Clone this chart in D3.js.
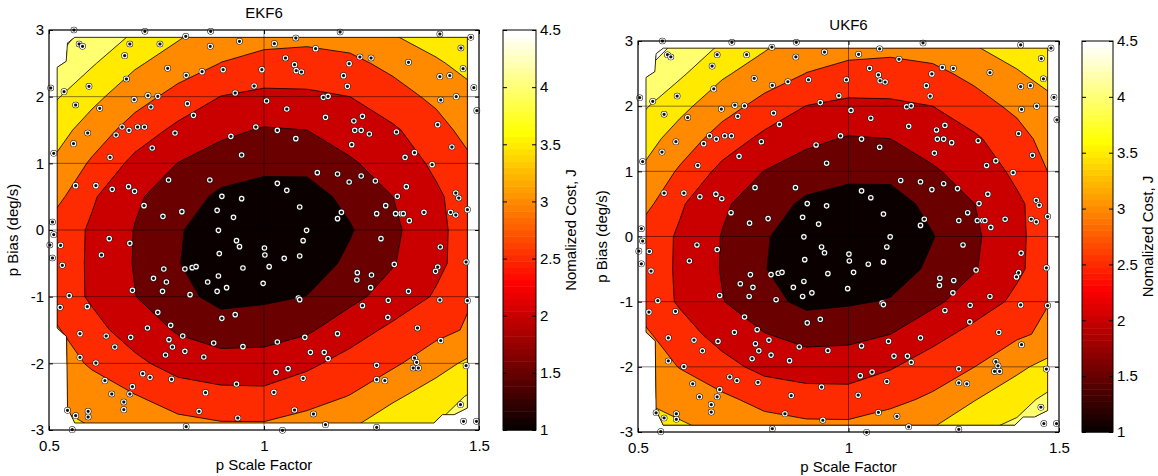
<!DOCTYPE html>
<meta charset="utf-8">
<title>EKF6 / UKF6</title>
<style>
	body { margin: 0; background: #fff; }
	svg text { font-family: "Liberation Sans", Arial, sans-serif; fill: #000; }
</style>
<svg id="chart" width="1158" height="476"></svg>
<script src="https://cdn.jsdelivr.net/npm/d3@7/dist/d3.min.js"></script>
<script>
// grid of the interpolated cost, rows go from the top (bias 3) to the bottom (bias -3)
var scaleFactor = [0.5, 0.6, 0.7, 0.8, 0.9, 1.0, 1.1, 1.2, 1.3, 1.4, 1.5];
var biasRows = [3, 2.5, 2, 1.5, 1, 0.5, 0, -0.5, -1, -1.5, -2, -2.5, -3];

var ekfCost = [
	[4.80, 4.37, 4.00, 3.62, 3.30, 3.26, 3.19, 3.27, 3.55, 3.80, 3.90],
	[4.55, 4.05, 3.57, 3.26, 2.99, 2.82, 2.81, 2.88, 3.13, 3.43, 3.74],
	[4.13, 3.63, 3.20, 2.83, 2.49, 2.39, 2.41, 2.50, 2.80, 3.11, 3.42],
	[3.77, 3.28, 2.78, 2.38, 2.11, 1.96, 2.00, 2.22, 2.43, 2.81, 3.28],
	[3.50, 2.93, 2.36, 1.99, 1.77, 1.63, 1.63, 1.94, 2.22, 2.59, 3.02],
	[3.26, 2.56, 2.07, 1.75, 1.40, 1.30, 1.31, 1.63, 2.00, 2.42, 2.84],
	[2.87, 2.43, 1.98, 1.56, 1.15, 1.05, 1.10, 1.46, 1.90, 2.37, 2.83],
	[2.87, 2.42, 1.97, 1.52, 1.20, 1.10, 1.25, 1.60, 1.97, 2.39, 2.81],
	[2.85, 2.43, 2.01, 1.65, 1.35, 1.41, 1.51, 1.87, 2.20, 2.55, 3.05],
	[3.13, 2.66, 2.27, 1.95, 1.75, 1.79, 1.93, 2.28, 2.61, 2.86, 3.11],
	[3.27, 2.94, 2.61, 2.30, 2.20, 2.20, 2.40, 2.68, 2.92, 3.29, 3.70],
	[3.45, 3.24, 3.03, 2.78, 2.66, 2.64, 2.82, 3.02, 3.41, 3.77, 4.12],
	[3.75, 3.52, 3.35, 3.20, 3.12, 3.12, 3.25, 3.50, 3.90, 4.05, 4.40]
];

var ukfCost = [
	[5.20, 4.40, 4.00, 3.62, 3.30, 3.26, 3.19, 3.27, 3.55, 3.80, 3.90],
	[4.55, 4.08, 3.57, 3.26, 2.99, 2.82, 2.81, 2.88, 3.13, 3.45, 3.78],
	[4.13, 3.63, 3.20, 2.83, 2.49, 2.39, 2.41, 2.50, 2.80, 3.11, 3.42],
	[3.77, 3.28, 2.78, 2.38, 2.11, 1.96, 2.00, 2.22, 2.43, 2.81, 3.30],
	[3.50, 2.93, 2.36, 1.99, 1.77, 1.63, 1.63, 1.94, 2.22, 2.60, 3.15],
	[3.26, 2.56, 2.07, 1.75, 1.40, 1.30, 1.31, 1.63, 2.00, 2.42, 2.84],
	[2.87, 2.43, 1.98, 1.56, 1.15, 1.05, 1.10, 1.48, 1.92, 2.40, 2.85],
	[2.87, 2.42, 1.97, 1.52, 1.20, 1.10, 1.25, 1.60, 1.97, 2.42, 2.83],
	[2.87, 2.44, 2.02, 1.66, 1.38, 1.44, 1.54, 1.90, 2.25, 2.60, 3.10],
	[3.15, 2.70, 2.32, 2.02, 1.83, 1.87, 2.00, 2.34, 2.66, 2.92, 3.15],
	[3.30, 2.98, 2.66, 2.36, 2.26, 2.26, 2.46, 2.75, 3.00, 3.38, 3.78],
	[3.50, 3.30, 3.10, 2.85, 2.73, 2.71, 2.88, 3.08, 3.48, 3.85, 4.18],
	[3.80, 3.62, 3.42, 3.26, 3.18, 3.18, 3.30, 3.56, 3.96, 4.12, 4.45]
];

// region where the cost was interpolated (outside is left blank)
var hull = [
	[0.519, 2.44], [0.540, 2.53], [0.543, 2.805], [0.560, 2.89], [1.473, 2.89],
	[1.473, -2.67], [1.442, -2.77], [1.415, -2.77], [1.395, -2.895],
	[0.560, -2.895], [0.543, -2.67], [0.541, -1.60], [0.519, -1.47]
];

// sample points [scale factor, bias], same set in both runs
var samples = [
	[0.558, 3.0], [0.723, 2.98], [0.876, 2.98], [0.818, 2.905], [1.074, 2.88], [1.177, 2.97], [1.409, 2.94], [1.481, 2.89],
	[0.570, 2.79], [0.578, 2.755], [0.688, 2.79], [0.758, 2.79], [0.943, 2.83], [0.875, 2.755], [1.024, 2.795], [1.120, 2.72], [1.458, 2.73],
	[0.676, 2.615], [0.776, 2.425], [0.819, 2.32], [0.856, 2.375], [0.905, 2.405], [0.995, 2.405], [1.050, 2.58], [1.071, 2.48],
	[1.075, 2.39], [1.087, 2.37], [1.198, 2.495], [1.223, 2.595], [1.249, 2.58], [1.336, 2.515], [1.463, 2.42],
	[0.680, 2.265], [0.593, 2.155], [0.535, 2.075], [0.504, 2.13], [0.730, 2.015], [0.753, 2.005], [0.698, 1.955], [0.933, 2.055],
	[0.977, 2.16], [1.006, 1.935], [1.185, 2.315], [1.194, 2.155], [1.409, 2.30], [1.432, 2.315], [1.488, 2.135], [1.138, 1.99],
	[1.149, 2.005], [1.411, 1.95], [1.447, 2.0],
	[0.562, 1.875], [0.618, 1.825], [0.737, 1.845], [0.822, 1.895], [0.836, 1.72], [0.670, 1.545], [0.686, 1.495], [0.706, 1.545],
	[0.722, 1.545], [0.656, 1.425], [0.590, 1.455], [0.793, 1.455], [0.981, 1.545], [0.923, 1.405], [1.031, 1.495], [1.053, 1.815],
	[1.143, 1.69], [1.209, 1.635], [1.229, 1.705], [1.211, 1.495], [1.226, 1.495], [1.245, 1.44], [1.308, 1.47], [1.404, 1.58], [1.495, 1.79],
	[0.557, 1.295], [0.642, 1.09], [0.740, 1.23], [0.948, 1.125], [1.074, 1.37], [1.204, 1.28], [1.328, 1.09], [1.350, 1.16],
	[1.391, 0.98], [1.437, 1.245], [0.511, 1.15],
	[0.562, 0.665], [0.609, 0.665], [0.647, 0.61], [0.685, 0.65], [0.699, 0.58], [0.778, 0.75], [0.874, 0.75], [0.721, 0.365],
	[1.031, 0.70], [1.053, 0.595], [1.124, 0.86], [1.171, 0.84], [1.198, 0.72], [1.226, 0.81], [1.259, 0.735], [0.902, 0.505],
	[0.948, 0.47], [1.331, 0.65], [1.310, 0.505], [1.446, 0.555], [1.453, 0.48],
	[0.765, 0.205], [0.809, 0.275], [0.891, 0.295], [0.929, 0.19], [1.083, 0.345], [1.180, 0.265], [1.171, 0.17], [1.283, 0.365],
	[1.262, 0.245], [1.306, 0.245], [1.319, 0.245], [1.324, 0.245], [1.338, 0.14], [1.372, 0.265], [1.434, 0.265], [1.446, 0.225],
	[1.473, 0.305], [0.508, 0.12], [0.894, -0.005], [1.099, -0.005], [0.511, -0.07], [0.502, -0.225],
	[0.527, -0.23], [0.640, -0.13], [0.688, -0.20], [0.622, -0.375], [0.936, -0.16], [0.943, -0.25], [1.001, -0.27], [1.002, -0.375],
	[1.091, -0.16], [0.896, -0.355], [1.047, -0.425], [1.083, -0.39], [1.272, -0.13], [1.410, -0.255], [1.470, -0.48], [1.303, -0.515],
	[1.404, -0.555], [1.399, -0.62], [0.531, -0.53], [0.508, -0.42], [0.767, -0.585], [0.816, -0.585], [0.833, -0.565], [0.842, -0.55],
	[0.951, -0.57], [1.012, -0.55],
	[0.743, -0.725], [0.773, -0.78], [0.764, -0.92], [0.694, -0.905], [0.869, -0.78], [0.894, -0.69], [0.891, -0.92], [0.913, -0.865],
	[0.998, -0.80], [1.217, -0.64], [1.216, -0.75], [1.250, -0.675], [1.248, -0.865], [1.336, -0.92], [0.547, -0.985], [0.828, -0.97],
	[1.080, -1.02], [1.083, -1.045], [1.289, -1.055], [1.409, -1.05], [1.473, -1.06],
	[0.526, -1.16], [0.589, -1.15], [0.753, -1.235], [0.902, -1.325], [0.933, -1.27], [1.229, -1.135], [1.288, -1.31], [1.357, -1.47],
	[1.411, -1.66], [0.783, -1.43], [0.729, -1.47], [0.811, -1.59], [0.572, -1.555], [0.633, -1.59], [0.690, -1.61], [1.095, -1.61],
	[1.171, -1.555],
	[0.653, -1.755], [0.779, -1.645], [0.787, -1.755], [0.816, -1.82], [0.771, -1.875], [0.860, -1.905], [0.883, -1.695], [0.951, -1.75],
	[1.031, -1.68], [1.108, -1.835], [1.140, -1.835], [1.149, -1.93], [0.572, -1.91], [0.609, -1.995], [1.262, -2.03], [1.350, -1.92],
	[1.355, -1.985], [1.347, -2.07], [1.359, -2.07],
	[0.718, -2.155], [0.735, -2.21], [0.785, -2.24], [0.630, -2.26], [0.694, -2.35], [0.936, -2.31], [1.028, -2.135], [1.056, -2.08],
	[1.091, -2.225], [1.262, -2.245], [1.281, -2.26], [1.470, -2.035], [0.646, -2.46], [0.688, -2.46], [0.864, -2.44], [1.023, -2.435],
	[0.674, -2.58], [0.674, -2.695], [0.591, -2.72], [0.591, -2.805], [0.543, -2.705], [0.562, -2.785], [0.849, -2.72], [0.939, -2.82],
	[1.071, -2.70], [1.115, -2.76], [1.457, -2.62], [0.819, -2.95], [0.554, -2.995], [1.043, -3.005], [1.143, -2.92], [1.262, -2.96],
	[1.464, -2.87], [1.494, -2.87]
];

var levels = [1, 1.5, 2, 2.5, 3, 3.5, 4, 4.5];
var xTicks = [0.5, 1, 1.5];
var yTicks = [-3, -2, -1, 0, 1, 2, 3];
var cTicks = [1, 1.5, 2, 2.5, 3, 3.5, 4, 4.5];
var cRange = [1, 4.5];

var svg = d3.select("#chart");
var fontSize = 15;

// matlab hot(64)
function hot(i) {
	var n = 24;
	var r = Math.min(i / n, 1);
	var g = Math.min(Math.max((i - n) / n, 0), 1);
	var b = Math.max((i - 2 * n) / (64 - 2 * n), 0);
	return d3.rgb(Math.round(255 * r), Math.round(255 * g), Math.round(255 * b)).formatHex();
}
function levelColor(v) {
	var idx = Math.floor((v - cRange[0]) / (cRange[1] - cRange[0]) * 64) + 1;
	return hot(Math.max(1, Math.min(64, idx)));
}

function styleAxis(g) {
	g.attr("font-family", null).attr("font-size", null);
	g.selectAll("text").attr("font-size", fontSize);
	g.selectAll(".tick line").attr("stroke", "#000");
	g.select(".domain").remove();
}

function drawPanel(p) {
	var x = d3.scaleLinear().domain([0.5, 1.5]).range([p.left, p.right]);
	var y = d3.scaleLinear().domain([-3, 3]).range([p.bottom, p.top]);
	var g = svg.append("g");

	var hullLine = d3.line().x(d => x(d[0])).y(d => y(d[1]));
	g.append("clipPath").attr("id", "hull-" + p.name)
		.append("path").attr("d", hullLine(hull) + "Z");

	// filled contours
	var nx = scaleFactor.length, ny = biasRows.length;
	var flat = [].concat(...p.cost);
	var contours = d3.contours().size([nx, ny]).thresholds(levels)(flat);
	var gx = d3.scaleLinear().domain([0.5, nx - 0.5]).range([scaleFactor[0], scaleFactor[nx - 1]]);
	var gy = d3.scaleLinear().domain([0.5, ny - 0.5]).range([biasRows[0], biasRows[ny - 1]]);
	var path = d3.geoPath(d3.geoTransform({
		point: function(px, py) { this.stream.point(x(gx(px)), y(gy(py))); }
	}));
	g.append("g").attr("clip-path", "url(#hull-" + p.name + ")")
		.selectAll("path").data(contours).join("path")
		.attr("d", path)
		.attr("fill", d => levelColor(d.value))
		.attr("stroke", "#000")
		.attr("stroke-width", 0.8)
		.attr("stroke-linejoin", "round");
	g.append("path").attr("d", hullLine(hull) + "Z")
		.attr("fill", "none").attr("stroke", "#000").attr("stroke-width", 0.8);

	// grid
	g.append("g").selectAll("line").data(yTicks).join("line")
		.attr("x1", p.left).attr("x2", p.right)
		.attr("y1", d => y(d)).attr("y2", d => y(d))
		.attr("stroke", "#000").attr("stroke-opacity", 0.6).attr("stroke-width", 0.8);
	g.append("g").selectAll("line").data(xTicks).join("line")
		.attr("y1", p.top).attr("y2", p.bottom)
		.attr("x1", d => x(d)).attr("x2", d => x(d))
		.attr("stroke", "#000").attr("stroke-opacity", 0.6).attr("stroke-width", 0.8);

	// sample markers
	var m = g.append("g").selectAll("g").data(samples).join("g")
		.attr("transform", d => "translate(" + x(d[0]) + "," + y(d[1]) + ")");
	m.append("circle").attr("r", 3.3).attr("fill", "#111");
	m.append("circle").attr("r", 2.2).attr("fill", "none").attr("stroke", "#fff").attr("stroke-width", 1.2);

	// axes
	g.append("g").attr("transform", "translate(" + p.left + ",0)")
		.call(d3.axisLeft(y).tickValues(yTicks).tickFormat(d => String(d)).tickSize(-4).tickSizeOuter(0).tickPadding(5))
		.call(styleAxis);
	g.append("g").attr("transform", "translate(" + p.right + ",0)")
		.call(d3.axisRight(y).tickValues(yTicks).tickFormat("").tickSize(-4).tickSizeOuter(0))
		.call(styleAxis);
	g.append("g").attr("transform", "translate(0," + p.bottom + ")")
		.call(d3.axisBottom(x).tickValues(xTicks).tickFormat(d => String(d)).tickSize(-4).tickSizeOuter(0).tickPadding(10))
		.call(styleAxis);
	g.append("g").attr("transform", "translate(0," + p.top + ")")
		.call(d3.axisTop(x).tickValues(xTicks).tickFormat("").tickSize(-4).tickSizeOuter(0))
		.call(styleAxis);
	g.append("rect")
		.attr("x", p.left).attr("y", p.top)
		.attr("width", p.right - p.left).attr("height", p.bottom - p.top)
		.attr("fill", "none").attr("stroke", "#000").attr("stroke-width", 1);

	g.append("text").attr("x", (p.left + p.right) / 2).attr("y", p.titleY)
		.attr("text-anchor", "middle").attr("font-size", fontSize).text(p.title);
	g.append("text").attr("x", (p.left + p.right) / 2).attr("y", p.bottom + 40)
		.attr("text-anchor", "middle").attr("font-size", fontSize).text("p Scale Factor");
	g.append("text")
		.attr("transform", "translate(" + (p.left - 31) + "," + ((p.top + p.bottom) / 2) + ") rotate(-90)")
		.attr("text-anchor", "middle").attr("font-size", fontSize).text("p Bias (deg/s)");

	// colorbar
	var c = d3.scaleLinear().domain(cRange).range([p.bottom, p.top]);
	var step = (cRange[1] - cRange[0]) / 64;
	var stripes = d3.range(1, 65);
	g.append("g").selectAll("rect").data(stripes).join("rect")
		.attr("x", p.cbLeft).attr("width", p.cbRight - p.cbLeft)
		.attr("y", k => c(cRange[0] + k * step))
		.attr("height", k => c(cRange[0] + (k - 1) * step) - c(cRange[0] + k * step) + 0.5)
		.attr("fill", k => hot(k));
	g.append("g").attr("transform", "translate(" + p.cbRight + ",0)")
		.call(d3.axisRight(c).tickValues(cTicks).tickFormat(d => String(d)).tickSize(-4).tickSizeOuter(0).tickPadding(4))
		.call(styleAxis);
	g.append("g").attr("transform", "translate(" + p.cbLeft + ",0)")
		.call(d3.axisLeft(c).tickValues(cTicks).tickFormat("").tickSize(-4).tickSizeOuter(0))
		.call(styleAxis);
	g.append("rect")
		.attr("x", p.cbLeft).attr("y", p.top)
		.attr("width", p.cbRight - p.cbLeft).attr("height", p.bottom - p.top)
		.attr("fill", "none").attr("stroke", "#000").attr("stroke-width", 1);
	g.append("text")
		.attr("transform", "translate(" + (p.cbRight + 40) + "," + ((p.top + p.bottom) / 2) + ") rotate(-90)")
		.attr("text-anchor", "middle").attr("font-size", fontSize).text("Nomalized Cost, J");
}

drawPanel({name: "ekf", title: "EKF6", cost: ekfCost,
	left: 49, right: 479, top: 30, bottom: 430, titleY: 18, cbLeft: 503, cbRight: 536});
drawPanel({name: "ukf", title: "UKF6", cost: ukfCost,
	left: 638, right: 1059, top: 41, bottom: 432, titleY: 30, cbLeft: 1082, cbRight: 1113});
</script>
